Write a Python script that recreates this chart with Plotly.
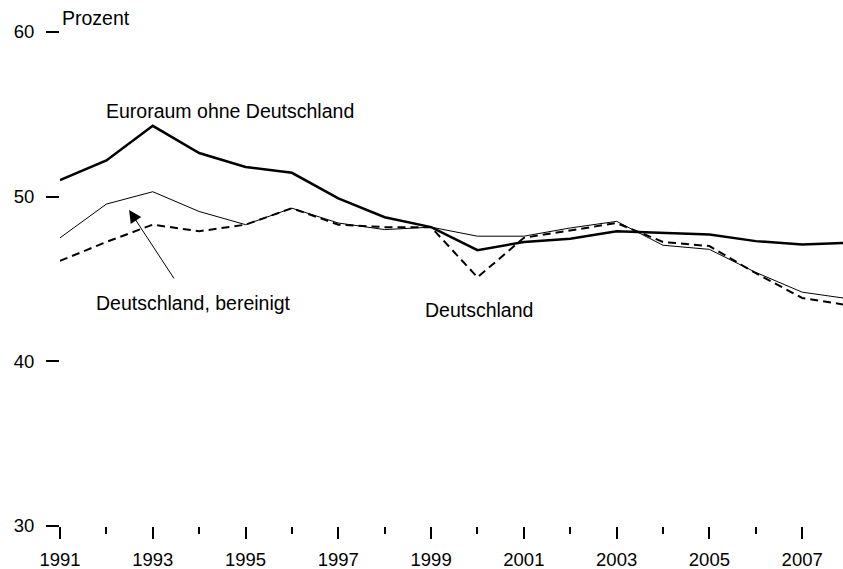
import plotly.graph_objects as go

years = list(range(1991, 2009))
euro_ohne_de = [51.0, 52.2, 54.3, 52.65, 51.8, 51.45, 49.9, 48.75, 48.15, 46.75,
                47.25, 47.45, 47.9, 47.8, 47.7, 47.3, 47.1, 47.2]
deutschland = [47.5, 49.55, 50.3, 49.1, 48.3, 49.3, 48.4, 48.0, 48.15, 47.6,
               47.6, 48.1, 48.5, 47.05, 46.8, 45.4, 44.2, 43.8]
de_bereinigt = [46.1, 47.25, 48.3, 47.9, 48.3, 49.3, 48.3, 48.15, 48.15, 45.1,
                47.5, 47.95, 48.4, 47.25, 47.0, 45.35, 43.85, 43.4]

y_ticks = [30, 40, 50, 60]
x_ticks = list(range(1991, 2008, 2))
x_tick_labels = [str(y) for y in x_ticks]

FONT = "Liberation Sans, Arial, sans-serif"
FS_ANN = 19.5
FS_TICK = 18.5

fig = go.Figure()
fig.add_trace(go.Scatter(x=years, y=deutschland, mode="lines",
                         line=dict(color="black", width=1), cliponaxis=False))
fig.add_trace(go.Scatter(x=years, y=de_bereinigt, mode="lines",
                         line=dict(color="black", width=2, dash="8px,5px"), cliponaxis=False))
fig.add_trace(go.Scatter(x=years, y=euro_ohne_de, mode="lines",
                         line=dict(color="black", width=2.5), cliponaxis=False))

fig.update_layout(
    width=843, height=569,
    margin=dict(l=60, r=0, t=32, b=43),
    paper_bgcolor="white", plot_bgcolor="white",
    showlegend=False,
    font=dict(family=FONT, size=FS_ANN, color="black"),
)
fig.update_xaxes(
    range=[1991, 2007.88], showgrid=False, zeroline=False, showline=False,
    automargin=False,
    tickmode="array", tickvals=x_ticks, ticktext=x_tick_labels,
    ticks="outside", ticklen=12, tickwidth=2, tickcolor="black",
    ticklabelstandoff=5,
    minor=dict(tickmode="linear", tick0=1991, dtick=1, ticks="outside",
               ticklen=7, tickwidth=2, tickcolor="black"),
    tickfont=dict(family=FONT, size=FS_TICK),
)
fig.update_yaxes(
    range=[30, 60], showgrid=False, zeroline=False, showline=False,
    automargin=False,
    tickmode="array", tickvals=y_ticks, ticktext=[str(v) for v in y_ticks],
    ticks="outside", ticklen=13, tickwidth=2, tickcolor="black",
    ticklabelstandoff=8,
    tickfont=dict(family=FONT, size=FS_TICK),
)

fig.add_annotation(x=0, y=1.028, xref="paper", yref="paper", text="Prozent",
                   showarrow=False, xanchor="left", yanchor="middle")
fig.add_annotation(x=1994.67, y=55.2, xref="x", yref="y", text="Euroraum ohne Deutschland",
                   showarrow=False, xanchor="center", yanchor="middle")
fig.add_annotation(x=1993.87, y=43.54, xref="x", yref="y", text="Deutschland, bereinigt",
                   showarrow=False, xanchor="center", yanchor="middle")
fig.add_annotation(x=2000.03, y=43.1, xref="x", yref="y", text="Deutschland",
                   showarrow=False, xanchor="center", yanchor="middle")
fig.add_annotation(x=1992.49, y=49.19, xref="x", yref="y", ax=1993.48, ay=44.94,
                   axref="x", ayref="y", text="", showarrow=True,
                   arrowhead=2, arrowsize=2.5, arrowwidth=1, arrowcolor="black")

fig.write_html("out.html", config={"displayModeBar": False},
               post_script="document.body.style.margin='0';")
